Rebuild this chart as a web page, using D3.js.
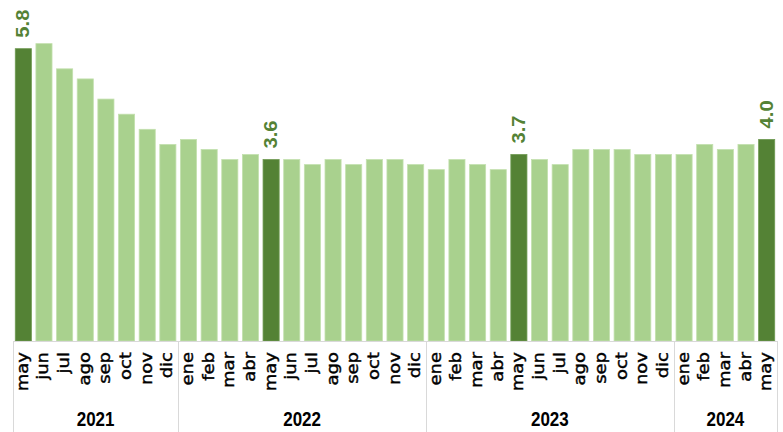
<!DOCTYPE html>
<html>
<head>
<meta charset="utf-8">
<script src="https://cdn.jsdelivr.net/npm/d3@7"></script>
<style>
  html, body { margin: 0; padding: 0; background: #fff; }
  svg { display: block; }
</style>
</head>
<body>
<main></main>
<script>
'use strict';

// month labels, one per bar
const months = [
  'may', 'jun', 'jul', 'ago', 'sep', 'oct', 'nov', 'dic',
  'ene', 'feb', 'mar', 'abr', 'may', 'jun', 'jul', 'ago', 'sep', 'oct', 'nov', 'dic',
  'ene', 'feb', 'mar', 'abr', 'may', 'jun', 'jul', 'ago', 'sep', 'oct', 'nov', 'dic',
  'ene', 'feb', 'mar', 'abr', 'may'
];
const years = [
  2021, 2021, 2021, 2021, 2021, 2021, 2021, 2021,
  2022, 2022, 2022, 2022, 2022, 2022, 2022, 2022, 2022, 2022, 2022, 2022,
  2023, 2023, 2023, 2023, 2023, 2023, 2023, 2023, 2023, 2023, 2023, 2023,
  2024, 2024, 2024, 2024, 2024
];
const values = [
  5.8, 5.9, 5.4, 5.2, 4.8, 4.5, 4.2, 3.9,
  4.0, 3.8, 3.6, 3.7, 3.6, 3.6, 3.5, 3.6, 3.5, 3.6, 3.6, 3.5,
  3.4, 3.6, 3.5, 3.4, 3.7, 3.6, 3.5, 3.8, 3.8, 3.8, 3.7, 3.7,
  3.7, 3.9, 3.8, 3.9, 4.0
];
// bars drawn dark and labelled (every May)
const highlighted = [0, 12, 24, 36];

const W = 783, H = 432;
const baseY = 341;

const data = values.map((v, i) => ({
  i, v, month: months[i], year: years[i], hi: highlighted.includes(i)
}));

const svg = d3.select('main')
  .append('svg')
  .attr('width', W)
  .attr('height', H);

const x = d3.scaleBand()
  .domain(data.map(d => d.i))
  .range([13, 777])
  .paddingInner(0.22)
  .paddingOuter(0.11);

const y = d3.scaleLinear()
  .domain([0, 6])
  .range([baseY, baseY - 6 * 50.4]);

const cx = d => x(d.i) + x.bandwidth() / 2;

// bars
svg.append('g')
  .selectAll('rect')
  .data(data)
  .enter()
  .append('rect')
  .attr('x', d => x(d.i))
  .attr('y', d => y(d.v))
  .attr('width', x.bandwidth())
  .attr('height', d => y(0) - y(d.v))
  .attr('fill', d => d.hi ? '#548235' : '#a9d18e')
  .attr('stroke', d => d.hi ? '#6f9a52' : '#c3e0ae')
  .attr('stroke-width', 0.8);

// value labels on highlighted bars
svg.append('g')
  .selectAll('text')
  .data(data.filter(d => d.hi))
  .enter()
  .append('text')
  .attr('transform', d => `translate(${cx(d) + 6},${y(d.v) - 11}) rotate(-90) scale(1.12,1)`)
  .attr('text-anchor', 'start')
  .attr('font-family', '"Liberation Sans", Arial, sans-serif')
  .attr('font-weight', 'bold')
  .attr('font-size', 18)
  .attr('fill', '#548235')
  .text(d => d.v.toFixed(1));

// axis line
svg.append('line')
  .attr('x1', x.range()[0])
  .attr('x2', x.range()[1])
  .attr('y1', baseY + 0.5)
  .attr('y2', baseY + 0.5)
  .attr('stroke', '#d9d9d9')
  .attr('stroke-width', 1);

// month labels
svg.append('g')
  .selectAll('text')
  .data(data)
  .enter()
  .append('text')
  .attr('transform', d => `translate(${cx(d) + 4.5},352) rotate(-90) scale(1.2,1)`)
  .attr('text-anchor', 'end')
  .attr('font-family', '"DejaVu Sans", sans-serif')
  .attr('font-size', 15)
  .attr('fill', '#000')
  .attr('stroke', '#000')
  .attr('stroke-width', 0.4)
  .text(d => d.month);

// year groups
const groups = d3.groups(data, d => d.year).map(([year, items]) => ({
  year,
  x0: x(items[0].i) - x.step() * x.paddingInner() / 2,
  x1: x(items[items.length - 1].i) + x.bandwidth() + x.step() * x.paddingInner() / 2
}));

const bounds = [groups[0].x0, ...groups.map(g => g.x1)];

svg.append('g')
  .selectAll('line')
  .data(bounds)
  .enter()
  .append('line')
  .attr('x1', d => Math.round(d) + 0.5)
  .attr('x2', d => Math.round(d) + 0.5)
  .attr('y1', baseY)
  .attr('y2', H)
  .attr('stroke', '#d9d9d9')
  .attr('stroke-width', 1);

svg.append('g')
  .selectAll('text')
  .data(groups)
  .enter()
  .append('text')
  .attr('transform', g => `translate(${(g.x0 + g.x1) / 2},426) scale(1,1.2)`)
  .attr('text-anchor', 'middle')
  .attr('font-family', '"Liberation Sans", Arial, sans-serif')
  .attr('font-weight', 'bold')
  .attr('font-size', 17)
  .attr('fill', '#000')
  .text(g => g.year);
</script>
</body>
</html>
